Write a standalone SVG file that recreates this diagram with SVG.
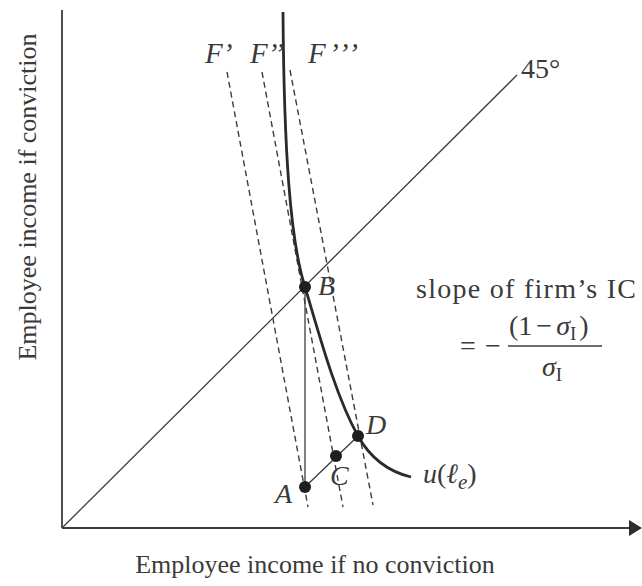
<svg xmlns="http://www.w3.org/2000/svg" width="642" height="586" viewBox="0 0 642 586">
<style>
.ax{stroke:#3c3c3c;stroke-width:1.8;fill:none}
.thin{stroke:#3c3c3c;stroke-width:1.3;fill:none}
.dash{stroke:#3c3c3c;stroke-width:1.4;fill:none;stroke-dasharray:6 4}
.curve{stroke:#2a2a2a;stroke-width:2.8;fill:none}
.dot{fill:#1e1e1e}
text{font-family:"Liberation Serif","Times New Roman",serif;fill:#3a3a3a}
.it{font-style:italic}
</style>
<rect width="642" height="586" fill="#ffffff"/>
<g id="axes">
<line class="ax" x1="62" y1="10" x2="62" y2="528"/>
<line class="ax" x1="62" y1="528" x2="632" y2="528"/>
<polygon points="629,520 642,528 629,536" fill="#2e2e2e"/>
</g>
<g id="connectors">
<line class="thin" x1="62" y1="528" x2="517" y2="75"/>
<line class="thin" x1="305" y1="287" x2="305" y2="487"/>
<line class="thin" x1="305" y1="487" x2="358" y2="436"/>
<line class="dash" x1="227" y1="72" x2="308" y2="507"/>
<line class="dash" x1="262" y1="72" x2="343" y2="507"/>
<line class="dash" x1="290" y1="70" x2="373" y2="505"/>
<path class="curve" d="M283,12 C284,150 290,240 305,287 C318,330 335,395 358,436 C372,461 390,472 411,477"/>
</g>
<g id="labels-F">
<text class="it" x="205" y="63" font-size="29">F’</text>
<text class="it" x="250" y="63" font-size="29">F’’</text>
<text class="it" x="308" y="63" font-size="29" textLength="50" lengthAdjust="spacing">F’’’</text>
</g>
<g id="label-45">
<text x="521" y="78" font-size="28">45°</text>
</g>
<g id="node-B">
<circle class="dot" cx="305" cy="287" r="6"/>
<text class="it" x="318" y="295" font-size="28">B</text>
</g>
<g id="node-A">
<circle class="dot" cx="305" cy="487" r="6"/>
<text class="it" x="275" y="503" font-size="28">A</text>
</g>
<g id="node-C">
<circle class="dot" cx="336" cy="456" r="6"/>
<text class="it" x="330" y="485" font-size="28">C</text>
</g>
<g id="node-D">
<circle class="dot" cx="358" cy="436" r="6"/>
<text class="it" x="366" y="434" font-size="28">D</text>
</g>
<g id="label-u">
<text x="423" y="483" font-size="28"><tspan class="it">u</tspan>(<tspan class="it">ℓ</tspan><tspan class="it" font-size="21" dy="6">e</tspan><tspan dy="-6">)</tspan></text>
</g>
<g id="slope">
<text x="636" y="298" font-size="28" text-anchor="end" textLength="220" lengthAdjust="spacing">slope of firm’s IC</text>
<text x="460" y="355" font-size="28">=</text>
<text x="485" y="355" font-size="28">−</text>
<line class="thin" x1="508" y1="346" x2="602" y2="346"/>
<text x="509" y="335" font-size="28">(1<tspan dx="4">−</tspan><tspan class="it" dx="4">σ</tspan><tspan font-size="19" dy="5">I</tspan><tspan dy="-5" dx="3">)</tspan></text>
<text x="542" y="376" font-size="28"><tspan class="it">σ</tspan><tspan font-size="19" dy="5">I</tspan></text>
</g>
<g id="axis-labels">
<text x="315" y="573" font-size="26" text-anchor="middle">Employee income if no conviction</text>
<text transform="translate(36,197) rotate(-90)" font-size="26" text-anchor="middle">Employee income if conviction</text>
</g>
</svg>
